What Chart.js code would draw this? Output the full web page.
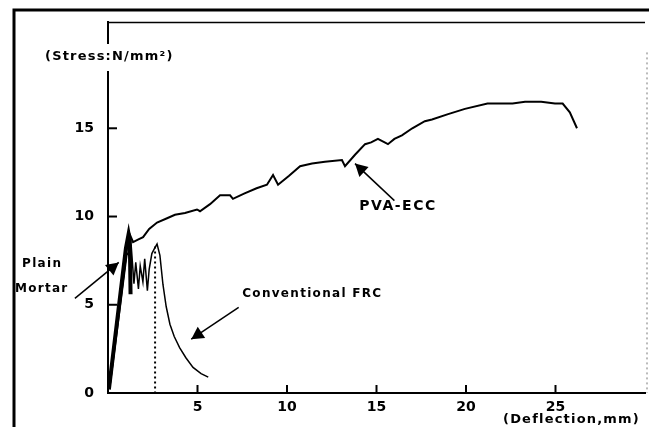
<!DOCTYPE html>
<html lang="en">
<head>
    <meta charset="UTF-8">
    <title>Stress - Deflection</title>
    <script src="https://cdn.jsdelivr.net/npm/chart.js"></script>
    <style>
        html, body { margin: 0; padding: 0; background: #fff; }
        .container { width: 649px; height: 427px; position: relative; }
    </style>
</head>
<body>
    <div class="container">
        <canvas id="stressChart" width="649" height="427"></canvas>
    </div>

    <script>
        // deflection (mm) / stress (N/mm2)
        const eccX = [0.1, 0.6, 1.17, 1.4, 1.7, 1.96, 2.3, 2.74, 3.3, 3.74, 4.3, 4.97, 5.14, 5.7, 6.26, 6.82, 6.98, 7.6, 8.3, 8.88, 9.22, 9.5, 10.1, 10.73, 11.4, 12.12, 13.07, 13.24, 13.8, 14.36, 14.7, 15.08, 15.64, 16.0, 16.42, 17.0, 17.7, 18.1, 19.0, 19.94, 21.2, 22.6, 23.3, 24.2, 24.97, 25.4, 25.8, 26.2];
        const eccY = [0.45, 4.6, 9.1, 8.55, 8.7, 8.83, 9.3, 9.66, 9.9, 10.1, 10.2, 10.4, 10.3, 10.7, 11.2, 11.2, 11.0, 11.3, 11.6, 11.8, 12.35, 11.8, 12.3, 12.85, 13.0, 13.1, 13.2, 12.85, 13.5, 14.1, 14.2, 14.4, 14.1, 14.4, 14.6, 15.0, 15.4, 15.5, 15.8, 16.1, 16.4, 16.4, 16.5, 16.5, 16.4, 16.4, 15.9, 15.0];

        const mortarX = [0.05, 0.5, 1.0, 1.15, 1.22, 1.26];
        const mortarY = [0.2, 4.0, 8.2, 9.0, 8.6, 5.6];

        const frcX = [0.1, 0.7, 1.05, 1.3, 1.45, 1.55, 1.7, 1.8, 1.95, 2.05, 2.2, 2.3, 2.45, 2.6, 2.74, 2.9, 3.07, 3.25, 3.46, 3.7, 4.0, 4.35, 4.75, 5.2, 5.6];
        const frcY = [0.3, 5.0, 7.8, 8.3, 6.2, 7.4, 5.9, 7.2, 6.3, 7.6, 5.8, 7.0, 7.9, 8.2, 8.44, 7.8, 6.15, 4.9, 3.9, 3.2, 2.57, 2.0, 1.45, 1.1, 0.9];

        const dottedX = [2.63, 2.63];
        const dottedY = [8.3, 0];

        const xTickLabels = [5, 10, 15, 20, 25];
        const yTickLabels = [0, 5, 10, 15];

        // callouts: text, text anchor and arrow tail/head in data units
        const noteTexts = ['PVA-ECC', 'Conventional FRC', 'Plain', 'Mortar'];
        const noteX = [16.2, 7.5, -4.8, -5.2];
        const noteY = [10.55, 5.6, 7.3, 5.9];
        const arrowTailX = [16.0, 7.3, -1.85];
        const arrowTailY = [10.9, 4.85, 5.36];
        const arrowHeadX = [13.8, 4.65, 0.6];
        const arrowHeadY = [13.0, 3.05, 7.4];

        function toPoints(xs, ys) {
            return xs.map((x, i) => ({ x: x, y: ys[i] }));
        }

        function drawArrow(ctx, x1, y1, x2, y2) {
            const ang = Math.atan2(y2 - y1, x2 - x1);
            ctx.beginPath();
            ctx.moveTo(x1, y1);
            ctx.lineTo(x2, y2);
            ctx.stroke();
            ctx.beginPath();
            ctx.moveTo(x2, y2);
            ctx.lineTo(x2 - 14 * Math.cos(ang - 0.5), y2 - 14 * Math.sin(ang - 0.5));
            ctx.lineTo(x2 - 14 * Math.cos(ang + 0.5), y2 - 14 * Math.sin(ang + 0.5));
            ctx.closePath();
            ctx.fill();
        }

        const paperPlugin = {
            id: 'paper',
            afterDraw(chart) {
                const ctx = chart.ctx;
                const area = chart.chartArea;
                const xs = chart.scales.x;
                const ys = chart.scales.y;
                ctx.save();
                ctx.strokeStyle = '#000';
                ctx.fillStyle = '#000';

                // outer frame
                ctx.lineWidth = 3;
                ctx.beginPath();
                ctx.moveTo(14, 427);
                ctx.lineTo(14, 10);
                ctx.lineTo(649, 10);
                ctx.stroke();
                ctx.lineWidth = 1.5;
                ctx.beginPath();
                ctx.moveTo(area.left, area.top);
                ctx.lineTo(area.right, area.top);
                ctx.stroke();
                ctx.lineWidth = 1;
                ctx.setLineDash([2, 3]);
                ctx.strokeStyle = '#777';
                ctx.beginPath();
                ctx.moveTo(area.right + 2, area.top + 30);
                ctx.lineTo(area.right + 2, area.bottom);
                ctx.stroke();
                ctx.setLineDash([]);
                ctx.strokeStyle = '#000';

                // inward tick marks
                ctx.lineWidth = 2;
                yTickLabels.forEach(v => {
                    if (v === 0) return;
                    const py = ys.getPixelForValue(v);
                    ctx.beginPath();
                    ctx.moveTo(area.left, py);
                    ctx.lineTo(area.left + 9, py);
                    ctx.stroke();
                });
                xTickLabels.forEach(v => {
                    const px = xs.getPixelForValue(v);
                    ctx.beginPath();
                    ctx.moveTo(px, area.bottom);
                    ctx.lineTo(px, area.bottom - 8);
                    ctx.stroke();
                });

                // axis titles
                ctx.font = 'bold 13px "DejaVu Sans"';
                ctx.letterSpacing = '1.2px';
                ctx.textBaseline = 'middle';
                ctx.fillStyle = '#fff';
                ctx.fillRect(area.left - 3, 44, 8, 27);
                ctx.fillStyle = '#000';
                ctx.textAlign = 'left';
                ctx.fillText('(Stress:N/mm\u00b2)', 45, 57);
                ctx.textAlign = 'right';
                ctx.fillText('(Deflection,mm)', 640, 420);

                // callouts
                ctx.lineWidth = 1.5;
                noteTexts.forEach((t, i) => {
                    ctx.font = i === 0 ? 'bold 14px "DejaVu Sans"' : 'bold 12px "DejaVu Sans"';
                    ctx.letterSpacing = i === 0 ? '1.5px' : '1.3px';
                    const px = xs.getPixelForValue(noteX[i]);
                    const py = ys.getPixelForValue(noteY[i]);
                    ctx.textAlign = i === 0 ? 'center' : 'left';
                    ctx.fillText(t, px, py);
                });
                arrowTailX.forEach((x, i) => {
                    drawArrow(ctx,
                        xs.getPixelForValue(x), ys.getPixelForValue(arrowTailY[i]),
                        xs.getPixelForValue(arrowHeadX[i]), ys.getPixelForValue(arrowHeadY[i]));
                });
                ctx.restore();
            }
        };

        const ctx = document.getElementById('stressChart').getContext('2d');
        const stressChart = new Chart(ctx, {
            type: 'line',
            data: {
                datasets: [
                    {
                        label: 'PVA-ECC',
                        data: toPoints(eccX, eccY),
                        borderColor: '#000',
                        borderWidth: 2,
                        pointRadius: 0,
                        tension: 0
                    },
                    {
                        label: 'Plain Mortar',
                        data: toPoints(mortarX, mortarY),
                        borderColor: '#000',
                        borderWidth: 4,
                        pointRadius: 0,
                        tension: 0
                    },
                    {
                        label: 'Conventional FRC',
                        data: toPoints(frcX, frcY),
                        borderColor: '#000',
                        borderWidth: 1.5,
                        pointRadius: 0,
                        tension: 0
                    },
                    {
                        label: 'Mortar drop',
                        data: toPoints(dottedX, dottedY),
                        borderColor: '#000',
                        borderWidth: 2,
                        borderDash: [2, 3],
                        pointRadius: 0
                    }
                ]
            },
            options: {
                responsive: false,
                animation: false,
                layout: { padding: { top: 18, right: 4, left: 0, bottom: 0 } },
                scales: {
                    x: {
                        type: 'linear',
                        min: 0,
                        max: 30,
                        afterFit: s => { s.height = 34; },
                        afterBuildTicks: s => { s.ticks = xTickLabels.map(v => ({ value: v })); },
                        grid: { display: false, drawTicks: false },
                        border: { color: '#000', width: 2 },
                        ticks: {
                            color: '#000',
                            padding: 6,
                            font: { family: 'DejaVu Sans', size: 14, weight: 'bold' }
                        }
                    },
                    y: {
                        type: 'linear',
                        min: 0,
                        max: 21,
                        afterFit: s => { s.width = 108; },
                        afterBuildTicks: s => { s.ticks = yTickLabels.map(v => ({ value: v })); },
                        grid: { display: false, drawTicks: false },
                        border: { color: '#000', width: 2 },
                        ticks: {
                            color: '#000',
                            padding: 14,
                            font: { family: 'DejaVu Sans', size: 14, weight: 'bold' }
                        }
                    }
                },
                plugins: {
                    legend: { display: false },
                    tooltip: { enabled: false }
                }
            },
            plugins: [paperPlugin]
        });
    </script>
</body>
</html>
